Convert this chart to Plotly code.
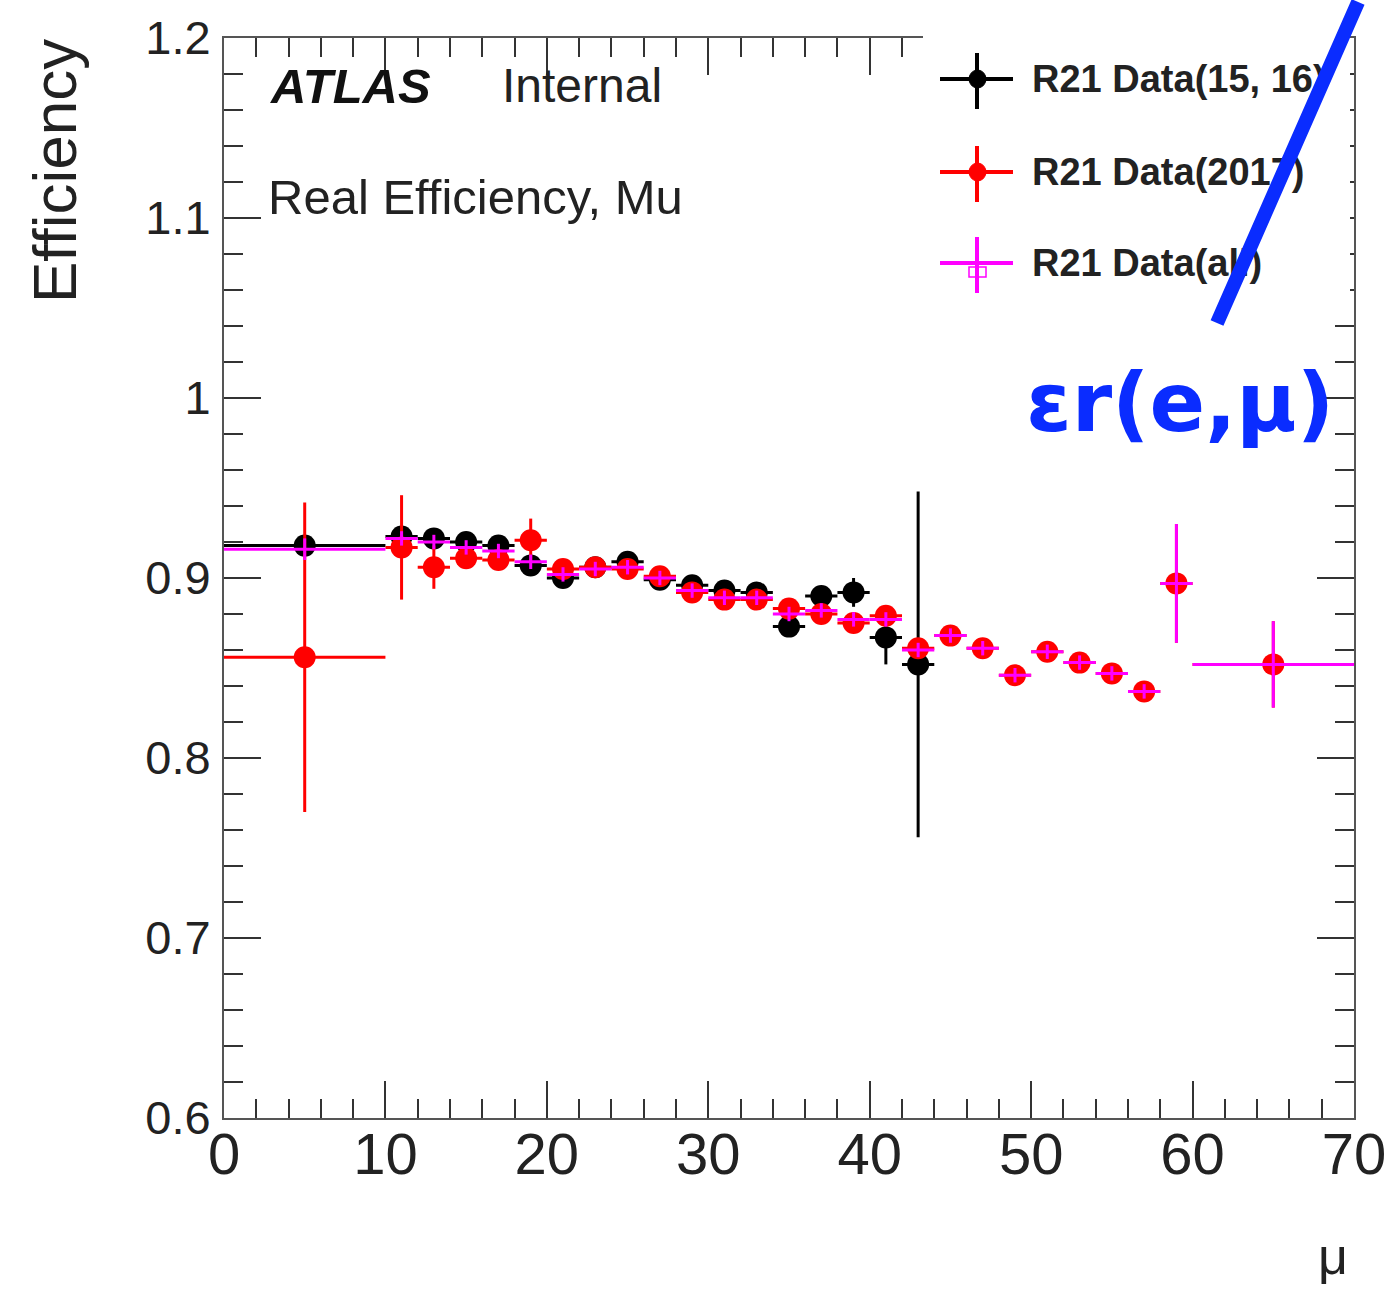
import plotly.graph_objects as go

# ---------------- data ----------------
mu_1516 = [5, 11, 13, 15, 17, 19, 21, 23, 25, 27, 29, 31, 33, 35, 37, 39, 41, 43]
mu_err_1516 = [5] + [1] * 17
eff_1516 = [0.918, 0.923, 0.922, 0.920, 0.918, 0.907, 0.900, 0.906, 0.909, 0.899,
            0.896, 0.893, 0.892, 0.873, 0.890, 0.892, 0.867, 0.852]
err_1516 = [0.004, 0.004, 0.004, 0.004, 0.004, 0.004, 0.004, 0.004, 0.004, 0.004,
            0.004, 0.004, 0.004, 0.005, 0.005, 0.008, 0.015, 0.096]

mu_2017 = [5, 11, 13, 15, 17, 19, 21, 23, 25, 27, 29, 31, 33, 35, 37, 39, 41, 43,
           45, 47, 49, 51, 53, 55, 57, 59, 65]
mu_err_2017 = [5] + [1] * 25 + [5]
eff_2017 = [0.856, 0.917, 0.906, 0.911, 0.910, 0.921, 0.905, 0.906, 0.905, 0.901,
            0.892, 0.888, 0.888, 0.883, 0.880, 0.875, 0.879, 0.861, 0.868, 0.861,
            0.846, 0.859, 0.853, 0.847, 0.837, 0.897, 0.852]
err_2017 = [0.086, 0.029, 0.012, 0.005, 0.004, 0.012, 0.004, 0.004, 0.004, 0.004,
            0.004, 0.004, 0.004, 0.004, 0.004, 0.004, 0.004, 0.005, 0.004, 0.004,
            0.005, 0.004, 0.004, 0.005, 0.005, 0.033, 0.024]

mu_all = mu_2017
mu_err_all = mu_err_2017
eff_all = [0.916, 0.922, 0.920, 0.917, 0.915, 0.909, 0.902, 0.905, 0.906, 0.900,
           0.893, 0.889, 0.889, 0.880, 0.882, 0.877, 0.877, 0.860, 0.868, 0.861,
           0.846, 0.859, 0.853, 0.847, 0.837, 0.897, 0.852]
err_all = [0.006, 0.004, 0.004, 0.004, 0.004, 0.004, 0.004, 0.004, 0.004, 0.004,
           0.004, 0.004, 0.004, 0.004, 0.004, 0.004, 0.004, 0.004, 0.004, 0.004,
           0.004, 0.004, 0.004, 0.004, 0.004, 0.033, 0.024]

series_names = ["R21 Data(15, 16)", "R21 Data(2017)", "R21 Data(all)"]
y_tickvals = [0.6, 0.7, 0.8, 0.9, 1.0, 1.1, 1.2]
y_ticktext = ["0.6", "0.7", "0.8", "0.9", "1", "1.1", "1.2"]
x_tickvals = [0, 10, 20, 30, 40, 50, 60, 70]

# ---------------- geometry helpers (pixel -> paper) ----------------
W, H = 1388, 1292
L, R, T, B = 224, 34, 38, 174
PW, PH = W - L - R, H - T - B


def px(x):
    return (x - L) / PW


def py(y):
    return (H - B - y) / PH


FONT = "Liberation Sans, Arial, Helvetica, sans-serif"
BLUE = "#0a2cff"

fig = go.Figure()


def add_series(x, xe, y, ye, color, symbol, size, line_w=0, fill=True):
    fig.add_trace(go.Scatter(
        x=x, y=y, mode="markers", showlegend=False,
        error_x=dict(type="data", array=xe, color=color, thickness=3, width=0),
        error_y=dict(type="data", array=ye, color=color, thickness=3, width=0),
        marker=dict(color=color if fill else "rgba(0,0,0,0)", symbol=symbol, size=size,
                    line=dict(color=color, width=line_w)),
        cliponaxis=False,
    ))


add_series(mu_1516, mu_err_1516, eff_1516, err_1516, "#000000", "circle", 22)
add_series(mu_2017, mu_err_2017, eff_2017, err_2017, "#ff0000", "circle", 22)
add_series(mu_all, mu_err_all, eff_all, err_all, "#ff00ff", "star-open", 29, line_w=2.5, fill=False)

axis_common = dict(
    showline=True, linecolor="#555555", linewidth=2,
    ticks="inside", tickcolor="#333333", tickwidth=2,
    mirror="ticks", showgrid=False, zeroline=False,
)

fig.update_xaxes(
    range=[0, 70], tickvals=x_tickvals, ticklen=37,
    minor=dict(dtick=2, ticklen=19, ticks="inside", tickcolor="#333333", tickwidth=2),
    ticklabelstandoff=-16,
    tickfont=dict(family=FONT, color="#222222", size=58),
    **axis_common,
)
fig.update_yaxes(
    range=[0.6, 1.2], tickvals=y_tickvals, ticktext=y_ticktext, ticklen=37,
    minor=dict(dtick=0.02, ticklen=19, ticks="inside", tickcolor="#333333", tickwidth=2),
    ticklabelstandoff=2,
    tickfont=dict(family=FONT, color="#222222", size=47),
    **axis_common,
)

shapes = []
# white legend box covering the top-right frame ticks
shapes.append(dict(type="rect", xref="paper", yref="paper", layer="above",
                   x0=px(923), x1=px(1350), y0=py(312), y1=py(0),
                   fillcolor="white", line=dict(width=0)))

legend_rows = [(79, "#000000", True), (172, "#ff0000", True), (263, "#ff00ff", False)]
for cy, col, filled in legend_rows:
    shapes.append(dict(type="line", xref="paper", yref="paper", layer="above",
                       x0=px(940), x1=px(1013), y0=py(cy), y1=py(cy),
                       line=dict(color=col, width=4)))
    shapes.append(dict(type="line", xref="paper", yref="paper", layer="above",
                       x0=px(977), x1=px(977), y0=py(cy - 26), y1=py(cy + 30),
                       line=dict(color=col, width=4)))
    if filled:
        shapes.append(dict(type="circle", xref="paper", yref="paper", layer="above",
                           x0=px(969), x1=px(986), y0=py(cy + 9), y1=py(cy - 9),
                           fillcolor=col, line=dict(color=col, width=1)))
    else:
        shapes.append(dict(type="rect", xref="paper", yref="paper", layer="above",
                           x0=px(969), x1=px(986), y0=py(cy + 14), y1=py(cy + 4),
                           fillcolor="rgba(0,0,0,0)", line=dict(color=col, width=1.5)))
fig.update_layout(shapes=shapes)

ann = []
# y title
ann.append(dict(text="Efficiency", xref="paper", yref="paper", x=px(55), y=py(171),
                xanchor="center", yanchor="middle", textangle=-90, showarrow=False,
                font=dict(family=FONT, size=62, color="#222222")))
# x title
ann.append(dict(text="μ", xref="paper", yref="paper", x=px(1333), y=py(1256),
                xanchor="center", yanchor="middle", showarrow=False,
                font=dict(family=FONT, size=52, color="#222222")))
# ATLAS label
ann.append(dict(text="<b><i>ATLAS</i></b>", xref="paper", yref="paper", x=px(268), y=py(86),
                xanchor="left", yanchor="middle", showarrow=False,
                font=dict(family=FONT, size=49, color="#111111")))
ann.append(dict(text="Internal", xref="paper", yref="paper", x=px(500), y=py(86),
                xanchor="left", yanchor="middle", showarrow=False,
                font=dict(family=FONT, size=48, color="#222222")))
ann.append(dict(text="Real Efficiency, Mu", xref="paper", yref="paper", x=px(266), y=py(197),
                xanchor="left", yanchor="middle", showarrow=False,
                font=dict(family=FONT, size=49, color="#222222")))
# legend text
for (cy, col, filled), name in zip(legend_rows, series_names):
    ann.append(dict(text="<b>" + name + "</b>", xref="paper", yref="paper", x=px(1030), y=py(cy),
                    xanchor="left", yanchor="middle", showarrow=False,
                    font=dict(family=FONT, size=38, color="#222222")))
# hand-drawn blue stroke (drawn above the legend text)
ann.append(dict(text=" ", xref="paper", yref="paper", x=px(1217), y=py(323),
                ax=142, ay=-340, axref="pixel", ayref="pixel",
                showarrow=True, arrowhead=0, arrowwidth=14, arrowcolor=BLUE,
                standoff=0, startstandoff=0, font=dict(size=1)))
# hand-written label
ann.append(dict(text="<b>ɛr(e,μ)</b>", xref="paper", yref="paper", x=px(1180), y=py(402),
                xanchor="center", yanchor="middle", showarrow=False,
                font=dict(family="DejaVu Sans, sans-serif", size=82, color=BLUE)))
fig.update_layout(annotations=ann)

fig.update_layout(
    width=W, height=H,
    margin=dict(l=L, r=R, t=T, b=B, autoexpand=False),
    paper_bgcolor="white", plot_bgcolor="white",
    showlegend=False,
)

fig.write_html("out.html")
